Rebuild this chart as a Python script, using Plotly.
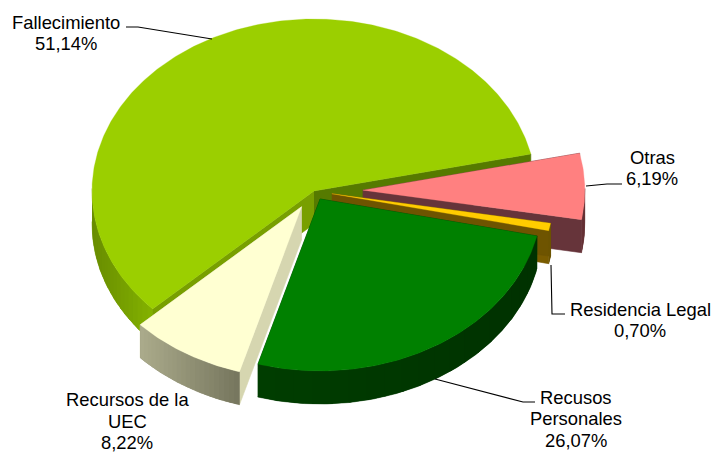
import numpy as np
import plotly.graph_objects as go

# ---- chart data ----
categories = ["Fallecimiento", "Recursos de la UEC", "Recusos Personales", "Residencia Legal", "Otras"]
label_texts = ["51,14%", "8,22%", "26,07%", "0,70%", "6,19%"]
# shares (the picture's Fallecimiento slice is wider than its label)
slice_shares = [58.60, 8.44, 26.07, 0.70, 6.19]
explode = [0.0, 0.107, 0.054, 0.082, 0.22]

# ---- styling / geometry ----
W, H = 711, 452
CX, CY, RX, RY, DEPTH = 314, 191, 222, 172, 33
START_DEG = 12.4
top_colors = ["#9BCF00", "#FFFFD2", "#008000", "#FFCC00", "#FF8080"]
rim_colors = [((104, 140, 0), (132, 178, 0)), ((172, 172, 140), (118, 118, 94)),
              ((0, 62, 0), (0, 50, 0)), ((108, 84, 0), (108, 84, 0)), ((102, 50, 54), (102, 50, 54))]
start_face = ["#567A00", "#D6D6B0", "#004000", "#7A5C00", "#66343A"]
end_face = ["#789F00", "#D6D6B0", "#004000", "#6E5400", "#66343A"]
draw_order = [0, 4, 3, 2, 1]

fig = go.Figure()


def poly(xs, ys, color, width=0.6):
    fig.add_trace(go.Scatter(x=list(xs), y=list(ys), mode="lines", fill="toself", fillcolor=color,
                             line=dict(color=color, width=width), hoverinfo="skip", showlegend=False))


fractions = np.array(slice_shares) / sum(slice_shares) * 360
starts = START_DEG + np.concatenate([[0], np.cumsum(fractions)[:-1]])

for i in draw_order:
    a0 = starts[i]
    a1 = a0 + fractions[i]
    mid = np.radians((a0 + a1) / 2)
    ax = CX + explode[i] * RX * np.cos(mid)
    ay = CY - explode[i] * RY * np.sin(mid)
    theta = np.radians(np.linspace(a0, a1, max(int(fractions[i] * 1.5), 8)))
    ex = ax + RX * np.cos(theta)
    ey = ay - RY * np.sin(theta)

    # flat cut faces
    poly([ax, ex[0], ex[0], ax], [ay, ey[0], ey[0] + DEPTH, ay + DEPTH], start_face[i])
    poly([ax, ex[-1], ex[-1], ax], [ay, ey[-1], ey[-1] + DEPTH, ay + DEPTH], end_face[i])

    # curved rim with a left-to-right shading
    c0, c1 = rim_colors[i]
    front = np.where(np.sin(theta) < 0.02)[0]
    if len(front) > 1:
        step = max(1, len(front) // 20)
        idx = list(front[::step])
        if idx[-1] != front[-1]:
            idx.append(front[-1])
        xmin, xmax = ex[front].min(), ex[front].max()
        base = "rgb(%d,%d,%d)" % tuple((c0[k] + c1[k]) // 2 for k in range(3))
        fx, fy = ex[front], ey[front]
        poly(list(fx) + list(fx[::-1]), list(fy) + list(fy[::-1] + DEPTH), base, width=0.5)
        for a, b in zip(idx[:-1], idx[1:]):
            t = ((ex[a] + ex[b]) / 2 - xmin) / max(xmax - xmin, 1)
            col = "rgb(%d,%d,%d)" % tuple(int(c0[k] + (c1[k] - c0[k]) * t) for k in range(3))
            sx = ex[a:b + 2]
            sy = ey[a:b + 2]
            poly(list(sx) + list(sx[::-1]), list(sy) + list(sy[::-1] + DEPTH), col, width=0)

    # top face
    poly([ax] + list(ex) + [ax], [ay] + list(ey) + [ay], top_colors[i], width=0.3)

# ---- leader lines ----
leaders = [
    ([126, 138, 212], [27, 27, 39]),
    ([586, 607, 622], [186, 184, 184]),
    ([551, 552, 565], [265, 314, 314]),
    ([435, 523, 535], [379, 402, 402]),
]
for lx, ly in leaders:
    fig.add_trace(go.Scatter(x=lx, y=ly, mode="lines", line=dict(color="black", width=1.1),
                             hoverinfo="skip", showlegend=False))

# ---- labels ----
label_lines = [["Fallecimiento"], ["Recursos de la", "UEC"], ["Recusos", "Personales"], ["Residencia Legal"], ["Otras"]]
label_pos = [(66, 22), (127, 399.5), (576, 397), (640, 309), (652, 157)]
LINE_STEP = 21.7
for lines, pct, (x, y) in zip(label_lines, label_texts, label_pos):
    for n, line in enumerate(lines + [pct]):
        fig.add_annotation(x=x, y=y + n * LINE_STEP, text=line, showarrow=False, xanchor="center", yanchor="middle",
                           align="center", font=dict(family="Liberation Sans", size=18.4, color="black"))

fig.update_layout(width=W, height=H, margin=dict(l=0, r=0, t=0, b=0), showlegend=False,
                  paper_bgcolor="white", plot_bgcolor="white",
                  xaxis=dict(range=[0, W], visible=False, fixedrange=True),
                  yaxis=dict(range=[H, 0], visible=False, fixedrange=True))
fig.write_html("out.html", config={"displayModeBar": False},
               post_script="document.body.style.margin='0';document.body.style.overflow='hidden';")
